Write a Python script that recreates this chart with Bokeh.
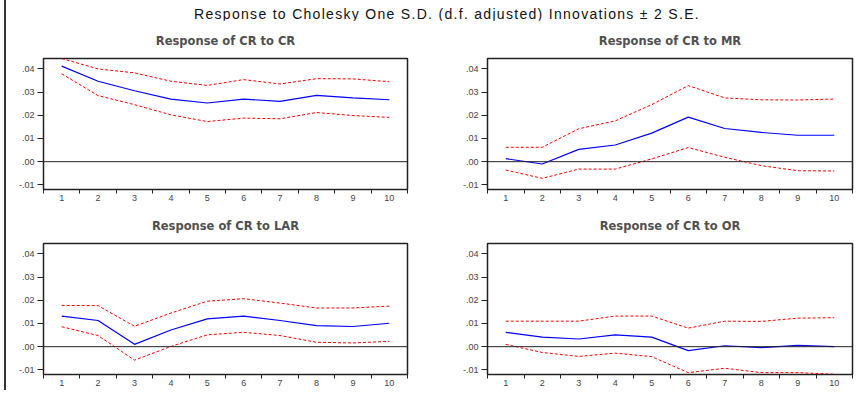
from bokeh.plotting import figure
from bokeh.layouts import column, row
from bokeh.models import FixedTicker, Span, Range1d, Div
from bokeh.embed import file_html
from bokeh.resources import INLINE

# ---------------- data ----------------
periods = [1, 2, 3, 4, 5, 6, 7, 8, 9, 10]

cr_cr = [0.0412, 0.0347, 0.0306, 0.0270, 0.0253, 0.0270, 0.0260, 0.0286, 0.0275, 0.0267]
cr_cr_up = [0.0445, 0.0400, 0.0383, 0.0347, 0.0329, 0.0354, 0.0335, 0.0358, 0.0357, 0.0345]
cr_cr_lo = [0.0379, 0.0285, 0.0246, 0.0202, 0.0173, 0.0188, 0.0185, 0.0212, 0.0199, 0.0191]

cr_mr = [0.0013, -0.0010, 0.0053, 0.0072, 0.0123, 0.0192, 0.0143, 0.0126, 0.0114, 0.0114]
cr_mr_up = [0.0062, 0.0062, 0.0142, 0.0176, 0.0246, 0.0328, 0.0275, 0.0267, 0.0266, 0.0270]
cr_mr_lo = [-0.0036, -0.0072, -0.0032, -0.0032, 0.0012, 0.0061, 0.0019, -0.0017, -0.0039, -0.0040]

cr_lar = [0.0132, 0.0113, 0.0010, 0.0072, 0.0120, 0.0132, 0.0113, 0.0091, 0.0087, 0.0101]
cr_lar_up = [0.0178, 0.0177, 0.0088, 0.0145, 0.0196, 0.0207, 0.0188, 0.0167, 0.0167, 0.0175]
cr_lar_lo = [0.0086, 0.0048, -0.0058, 0.0001, 0.0051, 0.0062, 0.0048, 0.0019, 0.0016, 0.0023]

cr_or = [0.0062, 0.0041, 0.0033, 0.0051, 0.0041, -0.0017, 0.0004, -0.0004, 0.0006, 0.0000]
cr_or_up = [0.0110, 0.0110, 0.0110, 0.0132, 0.0132, 0.0080, 0.0110, 0.0109, 0.0123, 0.0125]
cr_or_lo = [0.0010, -0.0025, -0.0042, -0.0028, -0.0043, -0.0112, -0.0093, -0.0112, -0.0112, -0.0119]

y_ticks = [-0.01, 0.0, 0.01, 0.02, 0.03, 0.04]
y_tick_labels = ["-.01", ".00", ".01", ".02", ".03", ".04"]

main_title = "Response to Cholesky One S.D. (d.f. adjusted) Innovations \u00b1 2 S.E."
titles = ["Response of CR to CR", "Response of CR to MR",
          "Response of CR to LAR", "Response of CR to OR"]

FONT = "Liberation Sans"


def panel(title, resp, up, lo, w, h, bl, br, bt, bb):
    p = figure(width=w, height=h, output_backend="svg", toolbar_location=None,
               x_range=Range1d(periods[0] - 0.5, periods[-1] + 0.5),
               y_range=Range1d(-0.012, 0.0445),
               min_border_left=bl, min_border_right=br,
               min_border_top=bt, min_border_bottom=bb)
    p.title.text = title
    p.title.align = "center"
    p.title.vertical_align = "top"
    p.title.text_font = "DejaVu Sans"
    p.title.text_font_size = "11.5px"
    p.title.text_font_style = "bold"
    p.title.text_color = "#505050"
    p.title.standoff = 18
    p.grid.visible = False
    p.outline_line_color = "#222222"
    p.outline_line_width = 1.5
    p.background_fill_color = "white"
    p.border_fill_color = "white"

    p.add_layout(Span(location=0, dimension="width", line_color="#222222", line_width=1))
    p.line(periods, up, line_color="#ff0000", line_width=1, line_dash="3 2")
    p.line(periods, lo, line_color="#ff0000", line_width=1, line_dash="3 2")
    p.line(periods, resp, line_color="#0000ff", line_width=1.2)

    bounds = [x - 0.5 for x in periods] + [periods[-1] + 0.5]
    xa = p.xaxis[0]
    xa.ticker = FixedTicker(ticks=periods, minor_ticks=bounds)
    xa.major_tick_line_color = None
    xa.major_tick_out = 0
    xa.major_tick_in = 0
    xa.minor_tick_line_color = "#222222"
    xa.minor_tick_out = 4
    xa.minor_tick_in = 0
    xa.major_label_standoff = 1
    xa.axis_line_color = "#222222"
    xa.major_label_text_font = FONT
    xa.major_label_text_font_size = "9px"
    xa.major_label_text_color = "#444444"

    ya = p.yaxis[0]
    ya.ticker = FixedTicker(ticks=y_ticks, minor_ticks=[])
    ya.major_label_overrides = dict(zip(y_ticks, y_tick_labels))
    ya.major_tick_out = 6
    ya.major_tick_in = 0
    ya.major_tick_line_color = "#222222"
    ya.minor_tick_line_color = None
    ya.axis_line_color = "#222222"
    ya.major_label_standoff = 3
    ya.major_label_text_font = FONT
    ya.major_label_text_font_size = "9px"
    ya.major_label_text_color = "#444444"
    return p


p1 = panel(titles[0], cr_cr, cr_cr_up, cr_cr_lo, 434, 185, 37, 33, 38, 16)
p2 = panel(titles[1], cr_mr, cr_mr_up, cr_mr_lo, 416, 185, 47, 4, 38, 16)
p3 = panel(titles[2], cr_lar, cr_lar_up, cr_lar_lo, 434, 185, 37, 33, 38, 16)
p4 = panel(titles[3], cr_or, cr_or_up, cr_or_lo, 416, 185, 47, 4, 38, 16)

head = Div(text=main_title, width=850, height=13,
           styles={"text-align": "center", "font-family": FONT, "font-size": "14px",
                   "line-height": "13px",
                   "letter-spacing": "1.3px", "padding-left": "22px",
                   "transform": "translateY(6px)",
                   "box-sizing": "border-box", "color": "#111111"})

layout = column(head, row(p1, p2), row(p3, p4),
                styles={"border-left": "2px solid #333333",
                        "margin-left": "4px", "margin-top": "-3px",
                        "background-color": "white"})

open("out.html", "w").write(file_html(layout, INLINE))
